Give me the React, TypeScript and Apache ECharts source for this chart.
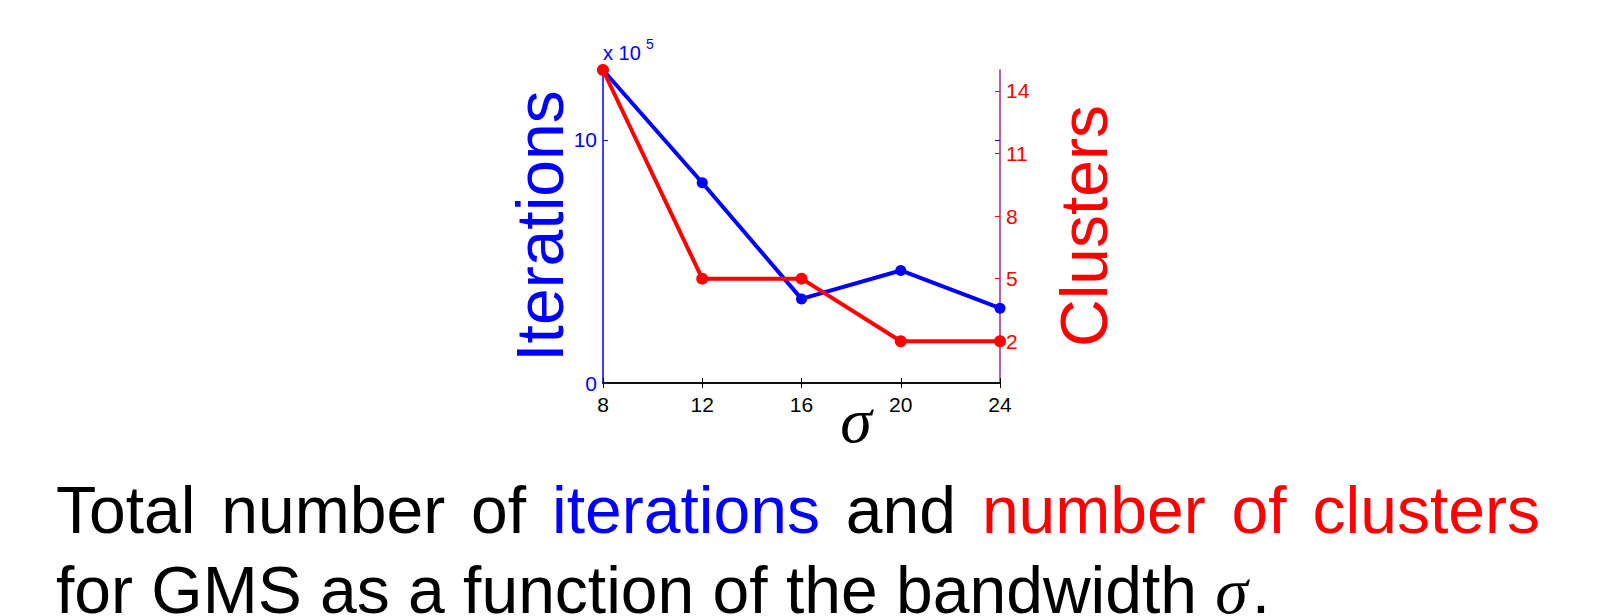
import React, { useEffect, useRef } from "react";
import * as echarts from "echarts";

const sigmas = [8, 12, 16, 20, 24];
const iterations = [12.88, 8.24, 3.46, 4.63, 3.08]; // x 10^5
const clusters = [15, 5, 5, 2, 2];
const leftTicks = [0, 10];
const rightTicks = [2, 5, 8, 11, 14];
const leftMax = 12.88;
const rightMax = 15;
const captionLine1 = [
  { t: "Total", c: "#000000" },
  { t: "number", c: "#000000" },
  { t: "of", c: "#000000" },
  { t: "iterations", c: "#0000ff" },
  { t: "and", c: "#000000" },
  { t: "number", c: "#ff0000" },
  { t: "of", c: "#ff0000" },
  { t: "clusters", c: "#ff0000" },
];
const captionLine2 = "for GMS as a function of the bandwidth ";

const BLUE = "#0000ff";
const RED = "#ff0000";
const SANS = "'Liberation Sans', Arial, Helvetica, sans-serif";
const SERIF = "'Liberation Serif', 'Times New Roman', serif";

// middle (central baseline) offset from alphabetic baseline
const midSans = (size: number) => size * 0.3465;
const midSerif = (size: number) => size * 0.3375;

export default function App() {
  const ref = useRef<HTMLDivElement>(null);
  useEffect(() => {
    if (!ref.current) return;
    const chart = echarts.init(ref.current, null, { renderer: "svg" });

    const capSize = 66;
    const cv = document.createElement("canvas");
    const ctx = cv.getContext("2d")!;
    ctx.font = `${capSize}px ${SANS}`;
    const widths = captionLine1.map((w) => ctx.measureText(w.t).width);
    const startX = 56;
    const endX = 1540;
    const total = widths.reduce((a, b) => a + b, 0);
    const gap = (endX - startX - total) / (captionLine1.length - 1);
    const base1 = 533;
    const base2 = 613;
    const line1: any[] = [];
    let x = startX;
    captionLine1.forEach((w, i) => {
      line1.push({
        type: "text",
        x,
        y: base1 - midSans(capSize),
        style: { text: w.t, fill: w.c, font: `${capSize}px ${SANS}`, align: "left", verticalAlign: "middle" },
      });
      x += widths[i] + gap;
    });
    const l2w = ctx.measureText(captionLine2).width;
    ctx.font = `italic ${capSize}px ${SERIF}`;
    const sw = ctx.measureText("σ").width;

    chart.setOption({
      animation: false,
      backgroundColor: "#ffffff",
      grid: { left: 603, top: 70, width: 397, height: 313, containLabel: false },
      xAxis: [
        {
          type: "value",
          position: "bottom",
          min: 8,
          max: 24,
          interval: 4,
          axisLine: { lineStyle: { color: "#000", width: 1.5 } },
          axisTick: { inside: true, length: 5, lineStyle: { color: "#000", width: 1 } },
          axisLabel: { color: "#000", fontSize: 21, fontFamily: SANS, margin: 11 },
          splitLine: { show: false },
        },
        {
          type: "value",
          position: "top",
          min: 8,
          max: 24,
          interval: 4,
          axisLine: { lineStyle: { color: "#000", width: 1.5 } },
          axisTick: { inside: true, length: 5, lineStyle: { color: "#000", width: 1 } },
          axisLabel: { show: false },
          splitLine: { show: false },
        },
      ],
      yAxis: [
        {
          type: "value",
          position: "left",
          min: 0,
          max: leftMax,
          axisLine: { show: true, lineStyle: { color: BLUE, width: 1.5 } },
          axisTick: { show: true, inside: true, length: 5, customValues: leftTicks, lineStyle: { color: BLUE } },
          axisLabel: { customValues: leftTicks, color: BLUE, fontSize: 21, fontFamily: SANS, margin: 6 },
          splitLine: { show: false },
        },
        {
          type: "value",
          position: "right",
          min: 0,
          max: rightMax,
          axisLine: { show: true, lineStyle: { color: "#a82880", width: 1.5 } },
          axisTick: { show: true, inside: true, length: 5, customValues: rightTicks, lineStyle: { color: RED } },
          axisLabel: { customValues: rightTicks, color: RED, fontSize: 21, fontFamily: SANS, margin: 6 },
          splitLine: { show: false },
        },
        {
          type: "value",
          position: "right",
          min: 0,
          max: leftMax,
          axisLine: { show: false },
          axisTick: { show: true, inside: true, length: 5, customValues: [10], lineStyle: { color: BLUE } },
          axisLabel: { show: false },
          splitLine: { show: false },
        },
      ],
      series: [
        {
          type: "line",
          xAxisIndex: 0,
          yAxisIndex: 0,
          data: sigmas.map((s, i) => [s, iterations[i]]),
          color: BLUE,
          lineStyle: { color: BLUE, width: 4 },
          itemStyle: { color: BLUE },
          symbol: "circle",
          symbolSize: 11,
          showSymbol: true,
          clip: false,
          z: 3,
        },
        {
          type: "line",
          xAxisIndex: 0,
          yAxisIndex: 1,
          data: sigmas.map((s, i) => [s, clusters[i]]),
          color: RED,
          lineStyle: { color: RED, width: 4 },
          itemStyle: { color: RED },
          symbol: "circle",
          symbolSize: 12,
          showSymbol: true,
          clip: false,
          z: 4,
        },
      ],
      graphic: [
        {
          type: "text",
          x: 603,
          y: 60 - midSans(20),
          style: { text: "x 10", fill: BLUE, font: `20px ${SANS}`, align: "left", verticalAlign: "middle" },
        },
        {
          type: "text",
          x: 646,
          y: 49 - midSans(14),
          style: { text: "5", fill: BLUE, font: `14px ${SANS}`, align: "left", verticalAlign: "middle" },
        },
        {
          type: "text",
          x: 540,
          y: 226,
          rotation: Math.PI / 2,
          style: { text: "Iterations", fill: BLUE, font: `66px ${SANS}`, align: "center", verticalAlign: "middle" },
        },
        {
          type: "text",
          x: 1084,
          y: 226,
          rotation: Math.PI / 2,
          style: { text: "Clusters", fill: RED, font: `66px ${SANS}`, align: "center", verticalAlign: "middle" },
        },
        {
          type: "text",
          x: 856,
          y: 442 - midSerif(64),
          style: { text: "σ", fill: "#000", font: `italic 64px ${SERIF}`, align: "center", verticalAlign: "middle" },
        },
        ...line1,
        {
          type: "text",
          x: startX,
          y: base2 - midSans(capSize),
          style: { text: captionLine2, fill: "#000", font: `${capSize}px ${SANS}`, align: "left", verticalAlign: "middle" },
        },
        {
          type: "text",
          x: startX + l2w,
          y: base2 - midSerif(capSize),
          style: { text: "σ", fill: "#000", font: `italic ${capSize}px ${SERIF}`, align: "left", verticalAlign: "middle" },
        },
        {
          type: "text",
          x: startX + l2w + sw + 4,
          y: base2 - midSans(capSize),
          style: { text: ".", fill: "#000", font: `${capSize}px ${SANS}`, align: "left", verticalAlign: "middle" },
        },
      ],
    });
    return () => chart.dispose();
  }, []);
  return (
    <div
      ref={ref}
      style={{ position: "fixed", left: 0, top: 0, width: 1610, height: 616, background: "#fff" }}
    />
  );
}
